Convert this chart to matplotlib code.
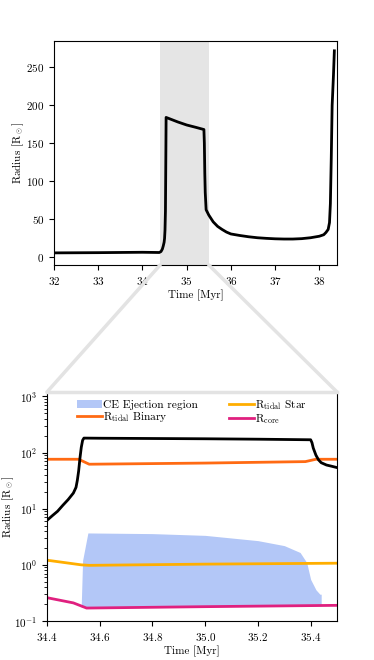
import matplotlib

matplotlib.use("Agg")
import matplotlib.pyplot as plt
from matplotlib.patches import ConnectionPatch

plt.rcParams["font.family"] = "cmr10"
plt.rcParams["mathtext.fontset"] = "cm"
plt.rcParams["axes.formatter.use_mathtext"] = True
plt.rcParams["font.size"] = 8

# --- full evolution (top panel) ---------------------------------------------
t_full = [32.0, 33.0, 34.0, 34.38, 34.42, 34.45, 34.47, 34.49, 34.5, 34.51,
          34.52, 34.525, 34.53, 34.535, 34.8, 35.0, 35.2, 35.39, 35.4, 35.41,
          35.42, 35.44, 35.5, 35.6, 35.7, 35.8, 35.9, 36.0, 36.2, 36.4,
          36.6, 36.8, 37.0, 37.2, 37.4, 37.6, 37.8, 38.0, 38.1, 38.15,
          38.2, 38.23, 38.25, 38.27, 38.29, 38.3, 38.32, 38.34]
r_full = [5.0, 5.3, 5.8, 5.5, 6.8, 10.0, 14.0, 19.0, 24.0, 35.0,
          60.0, 100.0, 140.0, 184.0, 178.0, 174.0, 171.0, 168.0, 150.0, 110.0,
          85.0, 62.0, 55.0, 46.0, 40.0, 36.0, 32.5, 30.0, 28.0, 26.3,
          25.0, 24.2, 23.6, 23.3, 23.3, 23.8, 25.0, 27.0, 29.0, 32.0,
          36.0, 45.0, 70.0, 130.0, 200.0, 213.0, 240.0, 272.0]

# --- zoom on common-envelope phase (bottom panel) ---------------------------
t_star = [34.4, 34.42, 34.44, 34.46, 34.48, 34.5, 34.51, 34.515, 34.52,
          34.525, 34.53, 34.535, 34.54, 34.6, 35.0, 35.2, 35.4, 35.405,
          35.41, 35.42, 35.43, 35.44, 35.46, 35.48, 35.5]
r_star = [6.2, 7.5, 9.0, 11.5, 14.5, 19.0, 24.0, 32.0, 47.0,
          80.0, 124.0, 165.0, 181.0, 180.0, 176.0, 173.0, 169.0, 150.0,
          120.0, 90.0, 74.0, 66.0, 60.0, 57.0, 54.0]

t_tid_bin = [34.4, 34.52, 34.56, 35.0, 35.38, 35.42, 35.5]
r_tid_bin = [76.0, 76.0, 62.0, 65.0, 69.0, 76.0, 76.0]

t_tid_star = [34.4, 34.53, 34.56, 35.0, 35.5]
r_tid_star = [1.21, 1.0, 0.98, 1.03, 1.07]

t_core = [34.4, 34.5, 34.55, 35.0, 35.5]
r_core = [0.26, 0.21, 0.17, 0.18, 0.19]

t_ce = [34.53, 34.535, 34.555, 34.8, 35.0, 35.2, 35.3, 35.36, 35.385, 35.4,
        35.42, 35.435, 35.44]
ce_upper = [0.2, 1.2, 3.7, 3.6, 3.35, 2.7, 2.2, 1.66, 1.1, 0.55,
            0.36, 0.3, 0.3]
ce_lower = [0.175, 0.175, 0.175, 0.178, 0.18, 0.182, 0.183, 0.184, 0.185,
            0.185, 0.186, 0.186, 0.186]

zoom_range = (34.4, 35.5)
gray_link = "#e3e3e3"

fig = plt.figure(figsize=(3.74, 6.6), dpi=100)
ax1 = fig.add_axes([0.1444, 0.5985, 0.7567, 0.3394])
ax2 = fig.add_axes([0.1257, 0.0591, 0.7754, 0.3470])

ax1.axvspan(*zoom_range, color="#e5e5e5", lw=0)
ax1.plot(t_full, r_full, color="k", lw=2)
ax1.set_xlim(32, 38.4)
ax1.set_ylim(-11, 285)
ax1.set_xlabel("Time [Myr]", labelpad=2)
ax1.set_ylabel(r"Radius [R$_\odot$]")
ax1.yaxis.set_label_coords(-0.098, 0.5)

ax2.fill_between(t_ce, ce_lower, ce_upper, color="#b3c7f7", lw=0,
                 label="CE Ejection region")
ax2.plot(t_tid_bin, r_tid_bin, color="#ff6a13", lw=2,
         label=r"R$_{\rm tidal}$ Binary")
ax2.plot(t_tid_star, r_tid_star, color="#ffae00", lw=2,
         label=r"R$_{\rm tidal}$ Star")
ax2.plot(t_core, r_core, color="#e0207f", lw=2, label=r"R$_{\rm core}$")
ax2.plot(t_star, r_star, color="k", lw=2)
ax2.set_yscale("log")
ax2.set_xlim(*zoom_range)
ax2.set_ylim(0.1, 1200)
ax2.set_xticks([34.4, 34.6, 34.8, 35.0, 35.2, 35.4])
ax2.set_xlabel("Time [Myr]", labelpad=2)
ax2.set_ylabel(r"Radius [R$_\odot$]")
ax2.yaxis.set_label_coords(-0.108, 0.5)
ax2.legend(ncol=2, loc="upper center", frameon=False, fontsize=8.2,
           handlelength=2.2, handletextpad=0.1, columnspacing=2.75,
           labelspacing=0.0, borderaxespad=0.1)
ax2.spines["top"].set_color(gray_link)
ax2.spines["top"].set_linewidth(2.5)

# gray links from the shaded span to the zoom panel
for xa, xb in zip(zoom_range, (0, 1)):
    con = ConnectionPatch(xyA=(xa, 0), coordsA=ax1.get_xaxis_transform(),
                          xyB=(xb, 1), coordsB=ax2.transAxes,
                          color=gray_link, lw=2.5)
    fig.add_artist(con)

fig.savefig("out.png", dpi=100)
